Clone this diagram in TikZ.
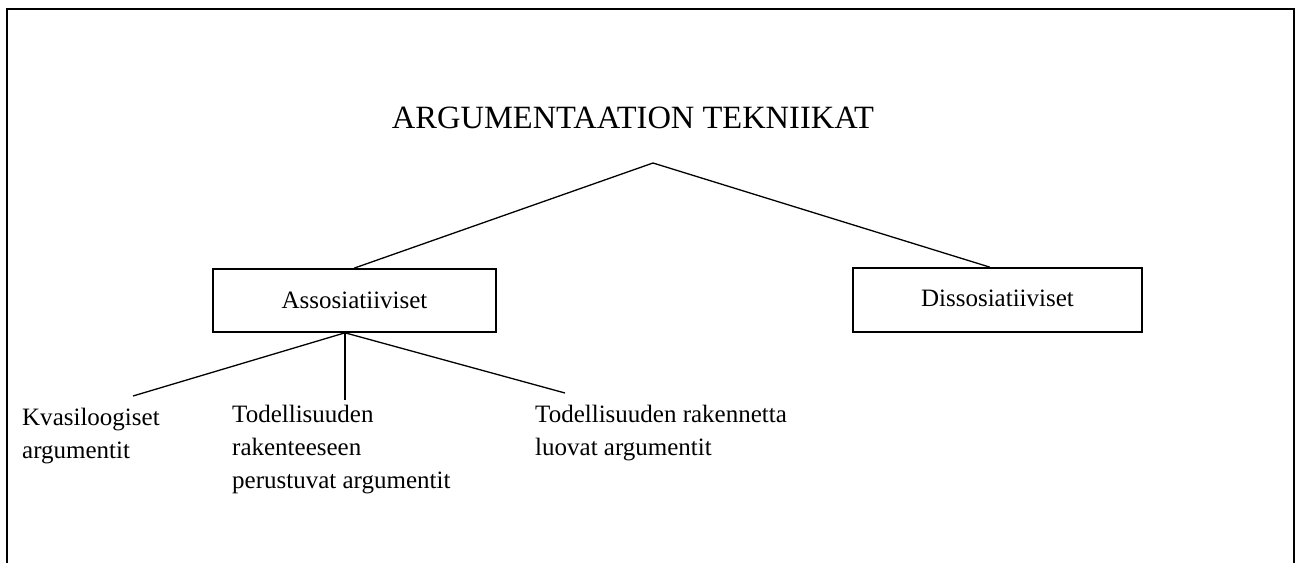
\documentclass[tikz,border=0pt]{standalone}
\usepackage{fontspec}
\setmainfont{Liberation Serif}
\usetikzlibrary{positioning}

\begin{document}
\begin{tikzpicture}[x=1pt, y=-1pt,
  box/.style={draw=black, line width=1.6pt, minimum width=283pt, minimum height=63pt, inner sep=0pt, font=\fontsize{25}{33}\selectfont},
  leaf/.style={anchor=base west, align=left, inner sep=0pt, font=\fontsize{25}{33}\selectfont},
  link/.style={draw=black, line width=1.3pt}]
  \useasboundingbox (0,0) rectangle (1295,562);
  \draw[line width=2.5pt] (7,566) -- (7,9) -- (1294,9) -- (1294,566);

  \node[anchor=base, inner sep=0pt, font=\fontsize{32.5}{38}\selectfont] (title) at (633,128) {ARGUMENTAATION TEKNIIKAT};
  \coordinate (apex) at (653,163);

  \node[box] (assoc) at (354.5,300.5) {Assosiatiiviset};
  \node[box, minimum width=289pt, minimum height=64pt] (dissoc) at (997.5,300) {\raisebox{4pt}{Dissosiatiiviset}};

  % base anchor = last line
  \node[leaf] (kvasi) at (22,458) {Kvasiloogiset\\argumentit};
  \node[leaf] (rakenteeseen) at (232,488) {Todellisuuden\\rakenteeseen\\perustuvat argumentit};
  \node[leaf] (rakennetta) at (535,455) {Todellisuuden rakennetta\\luovat argumentit};

  \coordinate (fork) at ([xshift=-9.5pt]assoc.south);
  \coordinate (kvasi top) at (133,396);
  \coordinate (rakenteeseen top) at (345,400);
  \coordinate (rakennetta top) at (565,393);

  \draw[link] (apex) -- ([xshift=-0.5pt]assoc.north);
  \draw[link] (apex) -- ([xshift=-7.5pt]dissoc.north);
  \draw[link] (fork) -- (kvasi top);
  \draw[link] (fork) -- (rakenteeseen top);
  \draw[link] (fork) -- (rakennetta top);

\end{tikzpicture}
\end{document}
